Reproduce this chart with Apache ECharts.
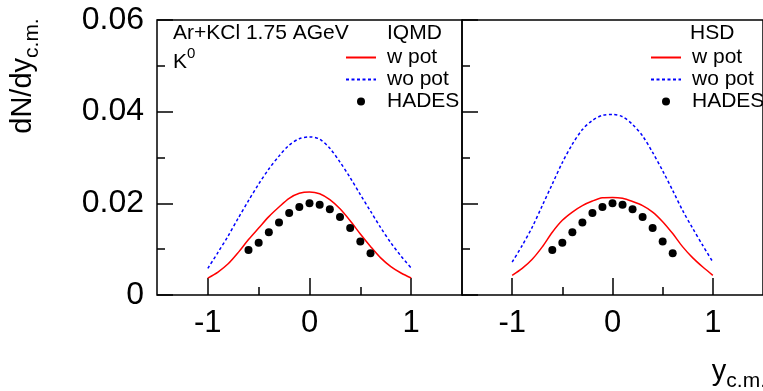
<!DOCTYPE html>
<html>
<head>
<meta charset="utf-8">
<script src="https://cdn.jsdelivr.net/npm/echarts@6/dist/echarts.min.js"></script>
<style>
  html, body { margin: 0; padding: 0; background: #fff; }
  #chart { width: 763px; height: 391px; }
</style>
</head>
<body>
<div id="chart"></div>
<script>
// Rapidity grid of the transport-model curves
const rapidity = [-1.0, -0.9, -0.8, -0.7, -0.6, -0.5, -0.4, -0.3, -0.2, -0.1, 0.0,
                   0.1, 0.2, 0.3, 0.4, 0.5, 0.6, 0.7, 0.8, 0.9, 1.0];

// IQMD, K0 rapidity density with and without the kaon-nucleon potential
const iqmdWithPot    = [0.0037, 0.0050, 0.0068, 0.0093, 0.0121, 0.0146, 0.0171, 0.0192, 0.0211, 0.0222, 0.0225,
                        0.0221, 0.0208, 0.0188, 0.0162, 0.0133, 0.0106, 0.0081, 0.0062, 0.0048, 0.0037];
const iqmdWithoutPot = [0.0058, 0.0093, 0.0129, 0.0168, 0.0206, 0.0242, 0.0275, 0.0303, 0.0327, 0.0341, 0.0345,
                        0.0340, 0.0320, 0.0290, 0.0256, 0.0219, 0.0183, 0.0147, 0.0114, 0.0085, 0.0059];

// HSD, same observables
const hsdWithPot     = [0.0043, 0.0058, 0.0078, 0.0105, 0.0137, 0.0163, 0.0181, 0.0195, 0.0205, 0.0212, 0.0213,
                        0.0211, 0.0204, 0.0195, 0.0181, 0.0160, 0.0134, 0.0105, 0.0081, 0.0061, 0.0043];
const hsdWithoutPot  = [0.0072, 0.0108, 0.0148, 0.0195, 0.0242, 0.0289, 0.0329, 0.0361, 0.0381, 0.0392, 0.0394,
                        0.0389, 0.0372, 0.0347, 0.0311, 0.0271, 0.0228, 0.0184, 0.0145, 0.0108, 0.0072];

// HADES measurement
const hadesRapidity = [-0.6, -0.5, -0.4, -0.3, -0.2, -0.1, 0.0, 0.1, 0.2, 0.3, 0.4, 0.5, 0.6];
const hadesYield    = [0.0098, 0.0114, 0.0137, 0.0158, 0.0179, 0.0192, 0.0200, 0.0197, 0.0187, 0.0170, 0.0146, 0.0117, 0.0091];

// Axis ticks
const yTicks      = [0, 0.02, 0.04, 0.06];
const xMajorTicks = [-1, 0, 1];
const xMinorTicks = [-0.5, 0.5];

const FONT = "'Liberation Sans', Arial, Helvetica, sans-serif";
const pairs = (xs, ys) => xs.map((x, i) => [x, ys[i]]);

function majorXAxis(gridIndex, showLabels) {
  return {
    type: 'value', gridIndex, position: 'bottom', min: -1.5, max: 1.5,
    axisLine: { show: false, onZero: false },
    splitLine: { show: false },
    axisTick: { show: true, inside: true, length: 17, customValues: xMajorTicks,
                lineStyle: { color: '#000', width: 1.5 } },
    axisLabel: { show: showLabels, customValues: xMajorTicks, margin: 13,
                 color: '#000', fontSize: 31, fontFamily: FONT }
  };
}
function minorXAxis(gridIndex) {
  return {
    type: 'value', gridIndex, position: 'bottom', min: -1.5, max: 1.5,
    axisLine: { show: false, onZero: false },
    splitLine: { show: false },
    axisTick: { show: true, inside: true, length: 8, customValues: xMinorTicks,
                lineStyle: { color: '#000', width: 1.5 } },
    axisLabel: { show: false }
  };
}
function yAxisFor(gridIndex, showLabels) {
  return {
    type: 'value', gridIndex, position: 'left', min: 0, max: 0.06, interval: 0.02,
    axisLine: { show: false, onZero: false },
    splitLine: { show: false },
    axisTick: { show: true, inside: true, length: 16, lineStyle: { color: '#000', width: 1.5 } },
    minorTick: { show: true, splitNumber: 2, length: 8, lineStyle: { color: '#000', width: 1.5 } },
    axisLabel: { show: showLabels, margin: 13, color: '#000', fontSize: 32, fontFamily: FONT,
                 customValues: yTicks }
  };
}

const hiddenMarker = { opacity: 0 };
const legendStyle = {
  orient: 'vertical', top: 42, itemWidth: 30, itemHeight: 8, itemGap: 1,
  selectedMode: false,
  data: [
    { name: 'w pot', itemStyle: hiddenMarker },
    { name: 'wo pot', itemStyle: hiddenMarker },
    { name: 'HADES' }
  ],
  textStyle: { color: '#000', fontSize: 21, lineHeight: 20, fontFamily: FONT, padding: [0, 0, 0, 6] }
};

const redLine  = { color: '#ff0000', width: 1.5, type: 'solid' };
const blueLine = { color: '#0000ff', width: 1.5, type: [3, 2.5] };

function curve(name, xi, yi, data, lineStyle) {
  return {
    name, type: 'line', xAxisIndex: xi, yAxisIndex: yi, data, smooth: 0.3,
    symbol: 'none', lineStyle, itemStyle: { color: lineStyle.color }, z: 2, silent: true
  };
}
function points(xi, yi) {
  return {
    name: 'HADES', type: 'scatter', xAxisIndex: xi, yAxisIndex: yi,
    data: pairs(hadesRapidity, hadesYield), symbol: 'circle', symbolSize: 8,
    itemStyle: { color: '#000', opacity: 1 }, z: 3, silent: true
  };
}

const chart = echarts.init(document.getElementById('chart'), null, { renderer: 'canvas' });
chart.setOption({
  animation: false,
  backgroundColor: '#fff',
  textStyle: { fontFamily: FONT },
  grid: [
    { left: 157, top: 20, width: 305, height: 275, show: true, borderColor: '#000', borderWidth: 1.5, backgroundColor: 'transparent' },
    { left: 462, top: 20, width: 304, height: 275, show: true, borderColor: '#000', borderWidth: 1.5, backgroundColor: 'transparent' }
  ],
  xAxis: [majorXAxis(0, true), minorXAxis(0), majorXAxis(1, true), minorXAxis(1)],
  yAxis: [yAxisFor(0, true), yAxisFor(1, false)],
  legend: [
    Object.assign({ left: 340 }, legendStyle),
    Object.assign({ left: 645 }, legendStyle)
  ],
  graphic: [
    { type: 'text', left: 173, top: 23, style: { text: 'Ar+KCl 1.75 AGeV', fontSize: 21, fontFamily: FONT, fill: '#000' } },
    { type: 'text', left: 173, top: 46, style: {
        text: '{k|K}{z|0}', fill: '#000',
        rich: {
          k: { fontSize: 21, lineHeight: 21, fontFamily: FONT, verticalAlign: 'top', padding: [6, 0, 0, 0] },
          z: { fontSize: 15, lineHeight: 15, fontFamily: FONT, verticalAlign: 'top' }
        } } },
    { type: 'text', left: 387, top: 23, style: { text: 'IQMD', fontSize: 21, fontFamily: FONT, fill: '#000' } },
    { type: 'text', left: 690, top: 23, style: { text: 'HSD', fontSize: 21, fontFamily: FONT, fill: '#000' } },
    { type: 'text', x: 23, y: 76, rotation: Math.PI / 2, style: {
        text: '{m|dN/dy}{s|c.m.}', fill: '#000', align: 'center', verticalAlign: 'middle',
        rich: {
          m: { fontSize: 29, lineHeight: 29, fontFamily: FONT, verticalAlign: 'top' },
          s: { fontSize: 21, lineHeight: 21, fontFamily: FONT, verticalAlign: 'top', padding: [13, 0, 0, 0] }
        } } },
    { type: 'text', x: 766, y: 372, style: {
        text: '{m|y}{s|c.m.}', fill: '#000', align: 'right', verticalAlign: 'middle',
        rich: {
          m: { fontSize: 29, lineHeight: 29, fontFamily: FONT, verticalAlign: 'top' },
          s: { fontSize: 21, lineHeight: 21, fontFamily: FONT, verticalAlign: 'top', padding: [13, 0, 0, 0] }
        } } }
  ],
  series: [
    curve('w pot',  0, 0, pairs(rapidity, iqmdWithPot), redLine),
    curve('wo pot', 0, 0, pairs(rapidity, iqmdWithoutPot), blueLine),
    points(0, 0),
    curve('w pot',  2, 1, pairs(rapidity, hsdWithPot), redLine),
    curve('wo pot', 2, 1, pairs(rapidity, hsdWithoutPot), blueLine),
    points(2, 1)
  ]
});
</script>
</body>
</html>
